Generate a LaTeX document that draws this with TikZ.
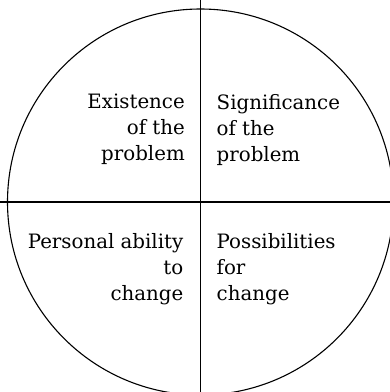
\documentclass[tikz,border=0pt]{standalone}
\usepackage{fontspec}
\setmainfont{DejaVu Serif}
\begin{document}
\begin{tikzpicture}[x=1pt,y=1pt,
  quad/.style={inner sep=0pt, font=\fontsize{19.8}{26}\selectfont},
  lq/.style={quad, align=right, anchor=north east},
  rq/.style={quad, align=left, anchor=north west},
  rule/.style={line width=1.1pt}]
\useasboundingbox (0,0) rectangle (390,392);
\clip (0,0) rectangle (390,392);
\coordinate (c) at (200.5,190);
\draw[rule] (c) circle[radius=193];
\coordinate (top) at (200.5,392);
\coordinate (bot) at (200.5,0);
\coordinate (lft) at (0,190);
\coordinate (rgt) at (390,190);
\draw[rule] (top) -- (bot);
\draw[rule] (lft) -- (rgt);
\node[lq] (ul) at (185,298) {Existence\\of the\\problem};
\node[rq] (ur) at (216.5,298) {Significance\\of the\\problem};
\node[lq] (ll) at (183.5,159) {Personal ability\\to\\change};
\node[rq] (lr) at (216.5,159) {Possibilities\\for\\change};
\end{tikzpicture}
\end{document}
